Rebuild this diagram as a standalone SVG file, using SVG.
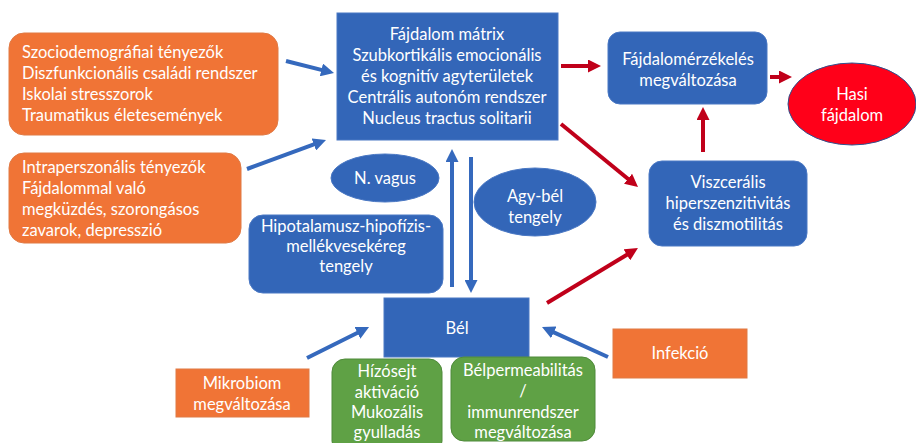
<svg xmlns="http://www.w3.org/2000/svg" width="916" height="443" viewBox="0 0 916 443">
<defs>
<style>
.t{font-family:Lato,"Open Sans","Liberation Sans",sans-serif;font-size:16.5px;fill:#ffffff}
.m{text-anchor:middle}
.blue{fill:#3366b8;stroke:#4a78c4;stroke-width:1}
.orange{fill:#f07436;stroke:#e07a45;stroke-width:1}
.green{fill:#5fa145;stroke:#4f8a3a;stroke-width:1}
.red{fill:#ff0019;stroke:#2f528f;stroke-width:1}
.ab{stroke:#3569bd;stroke-width:4;fill:none}
.ar{stroke:#c0001a;stroke-width:4;fill:none}
</style>
<marker id="hb" viewBox="0 0 13 13" refX="3" refY="6.5" markerWidth="13" markerHeight="13" markerUnits="userSpaceOnUse" orient="auto"><path d="M0,0 L13,6.5 L0,13 z" fill="#3569bd"/></marker>
<marker id="hr" viewBox="0 0 13 13" refX="3" refY="6.5" markerWidth="13" markerHeight="13" markerUnits="userSpaceOnUse" orient="auto"><path d="M0,0 L13,6.5 L0,13 z" fill="#c0001a"/></marker>
</defs>
<rect width="916" height="443" fill="#ffffff"/>
<g id="connectors">
<line class="ab" x1="286" y1="61" x2="324.3" y2="70.6" marker-end="url(#hb)"/>
<line class="ab" x1="247" y1="169" x2="316.6" y2="143.4" marker-end="url(#hb)"/>
<line class="ab" x1="452" y1="287" x2="452" y2="159" marker-end="url(#hb)"/>
<line class="ab" x1="471" y1="157" x2="471" y2="283" marker-end="url(#hb)"/>
<line class="ar" x1="561" y1="66" x2="591" y2="66" marker-end="url(#hr)"/>
<line class="ar" x1="770" y1="77" x2="782" y2="77" marker-end="url(#hr)"/>
<line class="ar" x1="703" y1="152" x2="703" y2="117" marker-end="url(#hr)"/>
<line class="ar" x1="561" y1="124" x2="630.3" y2="180.7" marker-end="url(#hr)"/>
<line class="ar" x1="547" y1="303" x2="629.4" y2="253.2" marker-end="url(#hr)"/>
<line class="ab" x1="608" y1="357" x2="551.1" y2="331.1" marker-end="url(#hb)"/>
<line class="ab" x1="307" y1="358" x2="360.1" y2="331.5" marker-end="url(#hb)"/>
</g>
<g id="szocio">
<rect class="orange" x="9" y="33" width="269" height="102" rx="15"/>
<text class="t" x="22" y="58">Szociodemográfiai tényezők</text>
<text class="t" x="22" y="79">Diszfunkcionális családi rendszer</text>
<text class="t" x="22" y="100">Iskolai stresszorok</text>
<text class="t" x="22" y="121">Traumatikus életesemények</text>
</g>
<g id="intra">
<rect class="orange" x="9" y="153" width="232" height="90" rx="15"/>
<text class="t" x="22" y="173">Intraperszonális tényezők</text>
<text class="t" x="22" y="194">Fájdalommal való</text>
<text class="t" x="22" y="215">megküzdés, szorongásos</text>
<text class="t" x="22" y="236">zavarok, depresszió</text>
</g>
<g id="matrix">
<rect class="blue" x="337" y="13" width="221" height="127"/>
<text class="t m" x="447" y="40">Fájdalom mátrix</text>
<text class="t m" x="447" y="61">Szubkortikális emocionális</text>
<text class="t m" x="447" y="82">és kognitív agyterületek</text>
<text class="t m" x="447" y="103">Centrális autonóm rendszer</text>
<text class="t m" x="447" y="124">Nucleus tractus solitarii</text>
</g>
<g id="vagus">
<ellipse class="blue" cx="385" cy="178" rx="54" ry="24"/>
<text class="t m" x="385" y="184">N. vagus</text>
</g>
<g id="agybel">
<ellipse class="blue" cx="535" cy="202" rx="61" ry="34"/>
<text class="t m" x="535" y="202">Agy-bél</text>
<text class="t m" x="535" y="223">tengely</text>
</g>
<g id="hpa">
<rect class="blue" x="249" y="215" width="194" height="78" rx="14"/>
<text class="t m" x="346" y="232">Hipotalamusz-hipofízis-</text>
<text class="t m" x="346" y="252">mellékvesekéreg</text>
<text class="t m" x="346" y="272">tengely</text>
</g>
<g id="erzekeles">
<rect class="blue" x="608" y="32" width="159" height="72" rx="12"/>
<text class="t m" x="688" y="65">Fájdalomérzékelés</text>
<text class="t m" x="688" y="86">megváltozása</text>
</g>
<g id="hasi">
<ellipse class="red" cx="852" cy="104" rx="64" ry="41"/>
<text class="t m" x="852" y="100">Hasi</text>
<text class="t m" x="852" y="121">fájdalom</text>
</g>
<g id="viszceralis">
<rect class="blue" x="649" y="161" width="158" height="85" rx="13"/>
<text class="t m" x="728" y="188">Viszcerális</text>
<text class="t m" x="728" y="209">hiperszenzitivitás</text>
<text class="t m" x="728" y="230">és diszmotilitás</text>
</g>
<g id="bel">
<rect class="blue" x="384" y="298" width="145" height="59"/>
<text class="t m" x="457" y="334">Bél</text>
</g>
<g id="mikrobiom">
<rect class="orange" x="176" y="369" width="133" height="48"/>
<text class="t m" x="242" y="389">Mikrobiom</text>
<text class="t m" x="242" y="410">megváltozása</text>
</g>
<g id="infekcio">
<rect class="orange" x="613" y="329" width="134" height="49"/>
<text class="t m" x="680" y="359">Infekció</text>
</g>
<g id="hizosejt">
<rect class="green" x="332" y="359" width="110" height="95" rx="13"/>
<text class="t m" x="387" y="377">Hízósejt</text>
<text class="t m" x="387" y="397.5">aktiváció</text>
<text class="t m" x="387" y="418">Mukozális</text>
<text class="t m" x="387" y="438">gyulladás</text>
</g>
<g id="belperm">
<rect class="green" x="451" y="357" width="144" height="84" rx="13"/>
<text class="t m" x="523" y="376">Bélpermeabilitás</text>
<text class="t m" x="523" y="397">/</text>
<text class="t m" x="523" y="418">immunrendszer</text>
<text class="t m" x="523" y="438">megváltozása</text>
</g>
</svg>
